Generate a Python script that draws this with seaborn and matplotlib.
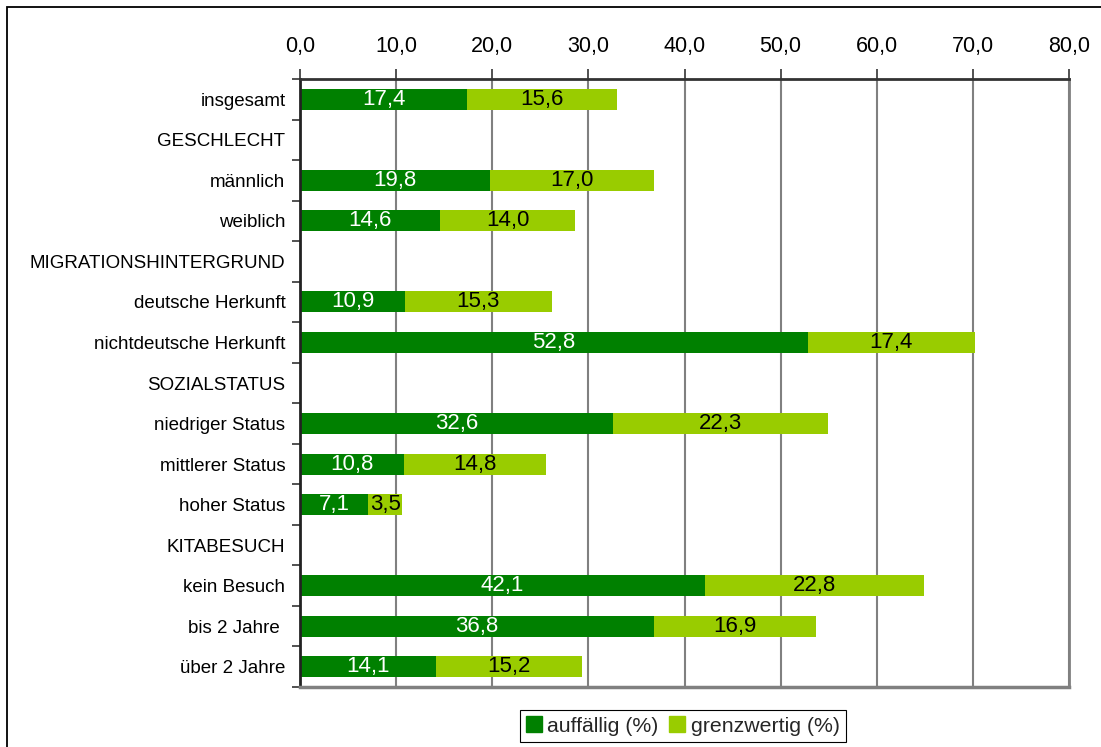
import matplotlib
matplotlib.use("Agg")
import matplotlib.pyplot as plt
import matplotlib.patches as mpatches
from matplotlib.ticker import FixedLocator, FuncFormatter
import numpy as np
import pandas as pd
import seaborn as sns

categories = [
    "insgesamt", "GESCHLECHT", "männlich", "weiblich",
    "MIGRATIONSHINTERGRUND", "deutsche Herkunft", "nichtdeutsche Herkunft",
    "SOZIALSTATUS", "niedriger Status", "mittlerer Status", "hoher Status",
    "KITABESUCH", "kein Besuch", "bis 2 Jahre ", "über 2 Jahre",
]
auffaellig = [17.4, 0, 19.8, 14.6, 0, 10.9, 52.8, 0, 32.6, 10.8, 7.1, 0, 42.1, 36.8, 14.1]
grenzwertig = [15.6, 0, 17.0, 14.0, 0, 15.3, 17.4, 0, 22.3, 14.8, 3.5, 0, 22.8, 16.9, 15.2]
x_ticks = [0, 10, 20, 30, 40, 50, 60, 70, 80]

DARK = "#008000"
LIGHT = "#99CC00"

sns.set_theme(style="white")
plt.rcParams["font.family"] = ["Liberation Sans", "DejaVu Sans"]

df = pd.DataFrame({"Kategorie": categories,
                   "auffaellig": auffaellig,
                   "grenzwertig": grenzwertig})
df["gesamt"] = df["auffaellig"] + df["grenzwertig"]

fig = plt.figure(figsize=(11.01, 7.47), dpi=100)
ax = fig.add_axes([300 / 1101, 1 - 687 / 747, 769 / 1101, 608 / 747])

# stacked bars: full length in light green, auffällig share on top in dark green
sns.barplot(data=df, x="gesamt", y="Kategorie", order=categories, color=LIGHT,
            width=0.52, saturation=1, orient="h", ax=ax, linewidth=0)
sns.barplot(data=df, x="auffaellig", y="Kategorie", order=categories, color=DARK,
            width=0.52, saturation=1, orient="h", ax=ax, linewidth=0)

for i, (a, g) in enumerate(zip(auffaellig, grenzwertig)):
    if a + g == 0:
        continue
    ax.text(a / 2, i, f"{a:.1f}".replace(".", ","), ha="center", va="center",
            color="white", fontsize=16)
    ax.text(a + g / 2, i, f"{g:.1f}".replace(".", ","), ha="center", va="center",
            color="black", fontsize=16)

ax.set_xlim(0, 80)
ax.set_ylim(len(categories) - 0.5, -0.5)
ax.set_xlabel("")
ax.set_ylabel("")

ax.xaxis.tick_top()
ax.set_xticks(x_ticks)
ax.xaxis.set_major_formatter(FuncFormatter(lambda v, p: f"{v:.1f}".replace(".", ",")))
ax.tick_params(axis="x", which="major", top=True, bottom=False, direction="out",
               length=7, width=1.2, color="#333333", labelsize=15.5, pad=8.5,
               labelcolor="black")
ax.grid(axis="x", color="#808080", linewidth=1.5)
ax.grid(axis="y", visible=False)
ax.set_axisbelow(True)

ax.yaxis.set_minor_locator(FixedLocator(np.arange(-0.5, len(categories), 1)))
ax.tick_params(axis="y", which="major", left=False, labelsize=13.5, pad=4.5,
               labelcolor="black")
ax.tick_params(axis="y", which="minor", left=True, direction="out", length=6,
               width=1.2, color="#333333")

for side, col, lw in [("top", "#333333", 2.0), ("left", "#222222", 2.0),
                      ("right", "#808080", 2.0), ("bottom", "#808080", 2.5)]:
    ax.spines[side].set_visible(True)
    ax.spines[side].set_color(col)
    ax.spines[side].set_linewidth(lw)

handles = [mpatches.Patch(color=DARK, label="auffällig (%)"),
           mpatches.Patch(color=LIGHT, label="grenzwertig (%)")]
fig.legend(handles=handles, loc="center", ncol=2,
           bbox_to_anchor=(683 / 1101, 1 - 726 / 747), frameon=True,
           fancybox=False, edgecolor="black", framealpha=1, fontsize=15.3,
           handlelength=0.75, handleheight=0.75, handletextpad=0.25,
           columnspacing=0.5, borderpad=0.3,
           borderaxespad=0).get_frame().set_linewidth(0.8)

# outer chart frame
fig.add_artist(mpatches.Rectangle((7 / 1101, -0.05), 1.2, 1 - 7 / 747 + 0.05,
                                  transform=fig.transFigure, fill=False,
                                  edgecolor="black", linewidth=1.3))

fig.savefig("out.png", dpi=100)
